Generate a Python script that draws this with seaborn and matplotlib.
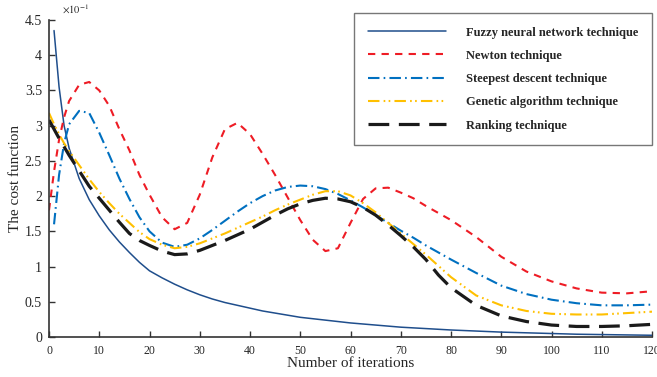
import numpy as np
import pandas as pd
import matplotlib
matplotlib.use("Agg")
import matplotlib.pyplot as plt
import seaborn as sns

# iterations grid (shared by all series)
iterations = [0, 1, 2, 3, 4, 6, 8, 10, 12, 14, 16, 18, 20, 22.5, 25, 27.5, 30, 32.5,
              35, 37.5, 40, 42.5, 45, 47.5, 50, 52.5, 55, 57.5, 60, 62.5, 65, 67.5,
              70, 72.5, 75, 77.5, 80, 85, 90, 95, 100, 105, 110, 115, 120]

fuzzy = [np.nan, 4.35, 3.55, 3.00, 2.68, 2.25, 1.95, 1.72, 1.52, 1.35, 1.20, 1.06, 0.94,
         0.84, 0.75, 0.67, 0.60, 0.54, 0.49, 0.45, 0.41, 0.37, 0.34, 0.31, 0.28, 0.26,
         0.24, 0.22, 0.20, 0.185, 0.17, 0.155, 0.14, 0.13, 0.12, 0.11, 0.10, 0.085,
         0.07, 0.06, 0.05, 0.04, 0.035, 0.03, 0.025]
newton = [1.80, 2.35, 2.80, 3.12, 3.35, 3.58, 3.62, 3.50, 3.28, 2.95, 2.65, 2.30, 2.02,
          1.70, 1.53, 1.62, 2.02, 2.55, 2.95, 3.04, 2.88, 2.60, 2.30, 1.98, 1.66, 1.38,
          1.22, 1.26, 1.62, 1.96, 2.11, 2.12, 2.05, 1.97, 1.86, 1.76, 1.66, 1.42, 1.14,
          0.93, 0.79, 0.69, 0.63, 0.62, 0.65]
steepest = [np.nan, 1.60, 2.30, 2.75, 3.02, 3.21, 3.18, 2.90, 2.58, 2.25, 1.96, 1.70, 1.50,
            1.34, 1.28, 1.31, 1.40, 1.52, 1.65, 1.78, 1.90, 2.00, 2.08, 2.13, 2.15, 2.14,
            2.10, 2.03, 1.94, 1.84, 1.73, 1.62, 1.51, 1.41, 1.30, 1.20, 1.10, 0.91, 0.73,
            0.61, 0.53, 0.48, 0.45, 0.45, 0.46]
genetic = [3.18, 3.02, 2.88, 2.75, 2.64, 2.44, 2.24, 2.06, 1.90, 1.75, 1.62, 1.49, 1.39,
           1.31, 1.26, 1.28, 1.33, 1.40, 1.47, 1.55, 1.63, 1.71, 1.80, 1.88, 1.95, 2.02,
           2.07, 2.07, 2.01, 1.90, 1.77, 1.62, 1.47, 1.32, 1.17, 1.01, 0.85, 0.59, 0.45,
           0.37, 0.33, 0.32, 0.32, 0.34, 0.36]
ranking = [3.08, 2.95, 2.82, 2.70, 2.58, 2.36, 2.14, 1.97, 1.80, 1.63, 1.47, 1.37, 1.30,
           1.22, 1.17, 1.18, 1.23, 1.30, 1.37, 1.45, 1.53, 1.63, 1.73, 1.82, 1.89, 1.94,
           1.97, 1.96, 1.92, 1.84, 1.73, 1.59, 1.44, 1.28, 1.10, 0.88, 0.70, 0.45, 0.30,
           0.22, 0.17, 0.15, 0.15, 0.16, 0.18]

labels = ["Fuzzy neural network technique", "Newton technique",
          "Steepest descent technique", "Genetic algorithm technique",
          "Ranking technique"]

sns.set_style("ticks")
plt.rcParams["font.family"] = ["Liberation Serif", "DejaVu Serif"]
plt.rcParams["mathtext.fontset"] = "stix"

fig = plt.figure(figsize=(6.57, 3.77), dpi=100)
ax = fig.add_axes([0.0746, 0.106, 0.9178, 0.841])

styles = [
    dict(color="#1f4e8c", lw=1.1, dashes=None),
    dict(color="#ee1c25", lw=1.5, dashes=(3.5, 3)),
    dict(color="#0070c0", lw=1.5, dashes=(5.5, 2, 0.8, 2)),
    dict(color="#ffc000", lw=1.5, dashes=(5.5, 2, 0.8, 1.6, 0.8, 2)),
    dict(color="#1a1a1a", lw=2.3, dashes=(6.5, 3)),
]
series = [fuzzy, newton, steepest, genetic, ranking]

for vals, lab, st in zip(series, labels, styles):
    df = pd.DataFrame({"iter": iterations, "cost": vals}).dropna()
    sns.lineplot(data=df, x="iter", y="cost", ax=ax, label=lab,
                 color=st["color"], linewidth=st["lw"])
    ln = ax.get_lines()[-1]
    if st["dashes"] is not None:
        ln.set_dashes(st["dashes"])

ax.set_xlim(0, 120)
ax.set_ylim(0, 4.5)
ax.set_xticks(range(0, 121, 10))
ax.set_yticks(np.arange(0, 4.51, 0.5))
ax.set_yticklabels([f"{v:g}" for v in np.arange(0, 4.51, 0.5)], fontsize=10)
ax.set_xticklabels([str(v) for v in range(0, 121, 10)], fontsize=8.5)
ax.tick_params(direction="in", length=4, width=1, color="#333333")
ax.tick_params(axis="x", pad=6)
ax.tick_params(axis="y", pad=5)
sns.despine(ax=ax)
for s in ["left", "bottom"]:
    ax.spines[s].set_color("#333333")
    ax.spines[s].set_linewidth(1.2)

ax.set_xlabel("Number of iterations", fontsize=11, labelpad=0)
ax.set_ylabel("The cost function", fontsize=11, labelpad=2)
fig.text(0.094, 0.975, r"$\times10^{-1}$", fontsize=7.5, va="center", ha="left")

leg = ax.legend(loc="upper right", bbox_to_anchor=(0.992, 0.966),
                bbox_transform=fig.transFigure, fancybox=False, frameon=True,
                handlelength=6.2, handletextpad=1.6, labelspacing=0.9,
                borderpad=1.1, borderaxespad=0,
                prop={"family": "Liberation Serif", "weight": "bold", "size": 9})
leg.get_frame().set_edgecolor("#555555")
leg.get_frame().set_linewidth(1.0)

plt.savefig("out.png", dpi=100)
plt.close()
